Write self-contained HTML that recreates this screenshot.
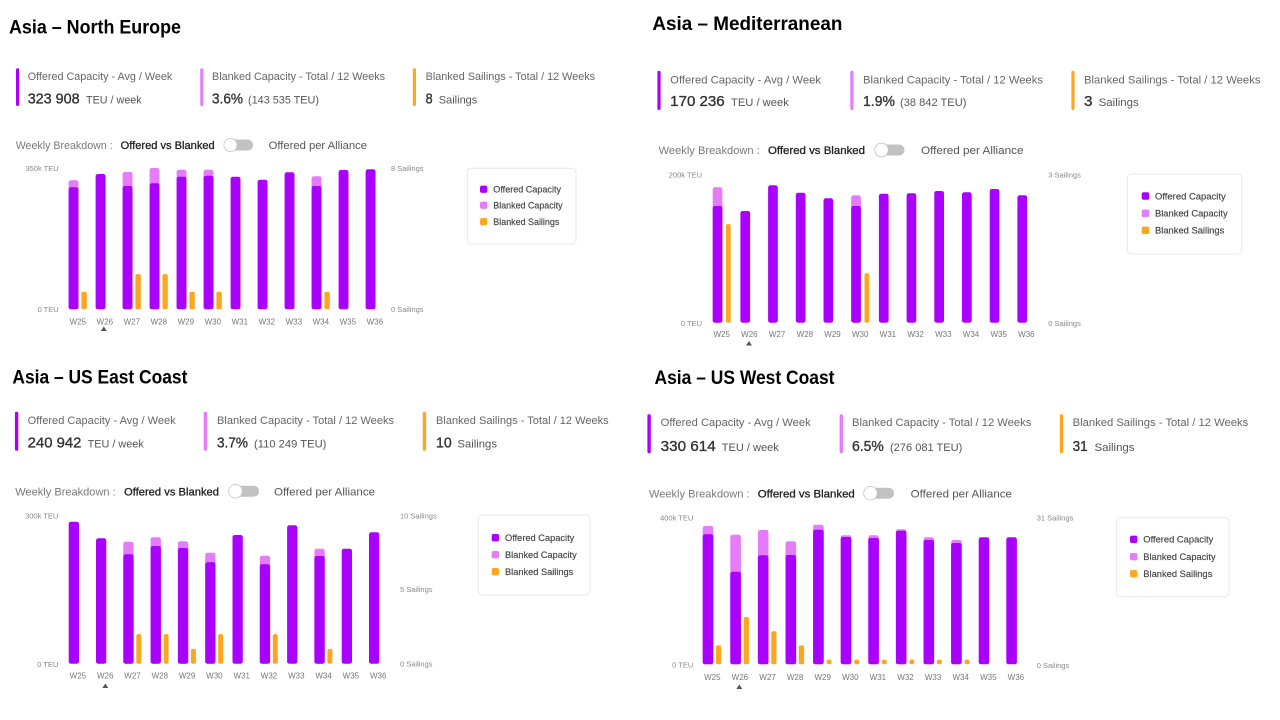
<!DOCTYPE html>
<html><head><meta charset="utf-8"><style>
html,body{margin:0;padding:0;background:#fff;}
svg{display:block;}
text{font-family:"Liberation Sans",Arial,sans-serif;}
.t{font-weight:bold;font-size:19px;fill:#000;}
.lb{font-size:11px;fill:#666;}
.v{font-size:14.5px;fill:#333;stroke:#333;stroke-width:0.35;}
.u{font-size:11px;fill:#555;}
.wb{font-size:11px;fill:#7a7a7a;}
.ob{font-size:11px;fill:#222;stroke:#222;stroke-width:0.3;}
.pa{font-size:11px;fill:#555;}
.ax{font-size:7.5px;fill:#888;}
.ax2{font-size:7.5px;fill:#888;text-anchor:end;}
.wk{font-size:8px;fill:#777;text-anchor:middle;}
.lg{font-size:9px;fill:#444;stroke:#444;stroke-width:0.15;}
.p{fill:#aa00ff;}
.k{fill:#e57cf9;}
.o{fill:#ffa620;}
.lbox{fill:#fff;stroke:#e8e8e8;stroke-width:1;}
.trk{fill:#c2c2c2;}
.knob{fill:#fff;stroke:#c4c4c4;stroke-width:0.8;}
.tri{fill:#555;}
</style></head><body>
<svg width="1280" height="720" viewBox="0 0 1280 720" xmlns="http://www.w3.org/2000/svg">
<rect width="1280" height="720" fill="#fff"/>

<!-- ================= TOP LEFT: Asia – North Europe ================= -->
<text class="t" x="9" y="33.5" textLength="172" lengthAdjust="spacingAndGlyphs">Asia – North Europe</text>
<rect class="p" x="16" y="68.3" width="3.2" height="37.7" rx="1.5"/>
<rect class="k" x="200.2" y="68.3" width="3.2" height="37.7" rx="1.5"/>
<rect class="o" x="412.8" y="68.3" width="3.2" height="37.7" rx="1.5"/>
<text class="lb" x="27.7" y="80" textLength="144.6" lengthAdjust="spacingAndGlyphs">Offered Capacity - Avg / Week</text>
<text class="lb" x="212" y="80" textLength="173" lengthAdjust="spacingAndGlyphs">Blanked Capacity - Total / 12 Weeks</text>
<text class="lb" x="425.6" y="80" textLength="169.5" lengthAdjust="spacingAndGlyphs">Blanked Sailings - Total / 12 Weeks</text>
<text class="v" x="27.7" y="103.3" textLength="52" lengthAdjust="spacingAndGlyphs">323 908</text>
<text class="u" x="86" y="103.3" textLength="55.7" lengthAdjust="spacingAndGlyphs">TEU / week</text>
<text class="v" x="212" y="103.3" textLength="31" lengthAdjust="spacingAndGlyphs">3.6%</text>
<text class="u" x="248" y="103.3" textLength="71" lengthAdjust="spacingAndGlyphs">(143 535 TEU)</text>
<text class="v" x="425.6" y="103.3" textLength="7" lengthAdjust="spacingAndGlyphs">8</text>
<text class="u" x="438.8" y="103.3" textLength="38.5" lengthAdjust="spacingAndGlyphs">Sailings</text>
<text class="wb" x="15.7" y="149" textLength="97" lengthAdjust="spacingAndGlyphs">Weekly Breakdown :</text>
<text class="ob" x="120.7" y="149" textLength="94" lengthAdjust="spacingAndGlyphs">Offered vs Blanked</text>
<rect class="trk" x="224" y="139.5" width="29" height="11" rx="5.5"/>
<circle class="knob" cx="230.5" cy="145" r="6.6"/>
<text class="pa" x="268.6" y="149" textLength="98.4" lengthAdjust="spacingAndGlyphs">Offered per Alliance</text>

<text class="ax2" x="58.7" y="171">350k TEU</text>
<text class="ax2" x="58.7" y="312">0 TEU</text>
<text class="ax" x="391" y="171">8 Sailings</text>
<text class="ax" x="391" y="312">0 Sailings</text>

<g>
<rect class="k" x="68.6" y="180.3" width="9.9" height="129" rx="2.2"/>
<rect class="p" x="68.6" y="187.3" width="9.9" height="122" rx="2.2"/>
<rect class="p" x="95.6" y="174" width="9.9" height="135.3" rx="2.2"/>
<rect class="k" x="122.6" y="172" width="9.9" height="137.3" rx="2.2"/>
<rect class="p" x="122.6" y="186" width="9.9" height="123.3" rx="2.2"/>
<rect class="k" x="149.6" y="168" width="9.9" height="141.3" rx="2.2"/>
<rect class="p" x="149.6" y="183.3" width="9.9" height="126" rx="2.2"/>
<rect class="k" x="176.6" y="169.7" width="9.9" height="139.6" rx="2.2"/>
<rect class="p" x="176.6" y="176.7" width="9.9" height="132.6" rx="2.2"/>
<rect class="k" x="203.6" y="169.7" width="9.9" height="139.6" rx="2.2"/>
<rect class="p" x="203.6" y="175.7" width="9.9" height="133.6" rx="2.2"/>
<rect class="p" x="230.6" y="176.7" width="9.9" height="132.6" rx="2.2"/>
<rect class="p" x="257.6" y="179.7" width="9.9" height="129.6" rx="2.2"/>
<rect class="p" x="284.6" y="172.3" width="9.9" height="137" rx="2.2"/>
<rect class="k" x="311.6" y="176.3" width="9.9" height="133" rx="2.2"/>
<rect class="p" x="311.6" y="186" width="9.9" height="123.3" rx="2.2"/>
<rect class="p" x="338.6" y="170" width="9.9" height="139.3" rx="2.2"/>
<rect class="p" x="365.6" y="169.3" width="9.9" height="140" rx="2.2"/>
<rect class="o" x="81.4" y="291.7" width="5.4" height="17.6" rx="1.8"/>
<rect class="o" x="135.4" y="274.1" width="5.4" height="35.2" rx="1.8"/>
<rect class="o" x="162.4" y="274.1" width="5.4" height="35.2" rx="1.8"/>
<rect class="o" x="189.4" y="291.7" width="5.4" height="17.6" rx="1.8"/>
<rect class="o" x="216.4" y="291.7" width="5.4" height="17.6" rx="1.8"/>
<rect class="o" x="324.4" y="291.7" width="5.4" height="17.6" rx="1.8"/>
</g>
<text class="wk" x="77.8" y="324.5">W25</text>
<text class="wk" x="104.8" y="324.5">W26</text>
<text class="wk" x="131.8" y="324.5">W27</text>
<text class="wk" x="158.8" y="324.5">W28</text>
<text class="wk" x="185.8" y="324.5">W29</text>
<text class="wk" x="212.8" y="324.5">W30</text>
<text class="wk" x="239.8" y="324.5">W31</text>
<text class="wk" x="266.8" y="324.5">W32</text>
<text class="wk" x="293.8" y="324.5">W33</text>
<text class="wk" x="320.8" y="324.5">W34</text>
<text class="wk" x="347.8" y="324.5">W35</text>
<text class="wk" x="374.8" y="324.5">W36</text>
<polygon class="tri" points="100.8,331 103.8,326.5 106.8,331"/>

<rect class="lbox" x="467.3" y="168.3" width="108.7" height="75.7" rx="4"/>
<rect class="p" x="480" y="185.6" width="7.3" height="7.3" rx="2"/>
<rect class="k" x="480" y="201.6" width="7.3" height="7.3" rx="2"/>
<rect class="o" x="480" y="218" width="7.3" height="7.3" rx="2"/>
<text class="lg" x="493.3" y="192.5" textLength="67.7" lengthAdjust="spacingAndGlyphs">Offered Capacity</text>
<text class="lg" x="493.3" y="208.5" textLength="69.3" lengthAdjust="spacingAndGlyphs">Blanked Capacity</text>
<text class="lg" x="493.3" y="224.9" textLength="66" lengthAdjust="spacingAndGlyphs">Blanked Sailings</text>

<!-- ================= TOP RIGHT: Asia – Mediterranean ================= -->
<text class="t" x="652.4" y="30" textLength="190" lengthAdjust="spacingAndGlyphs">Asia – Mediterranean</text>
<rect class="p" x="657.4" y="70.7" width="3.2" height="39.3" rx="1.5"/>
<rect class="k" x="850.3" y="70.7" width="3.2" height="39.3" rx="1.5"/>
<rect class="o" x="1071.4" y="70.7" width="3.2" height="39.3" rx="1.5"/>
<text class="lb" x="670.2" y="83.3" textLength="150.8" lengthAdjust="spacingAndGlyphs">Offered Capacity - Avg / Week</text>
<text class="lb" x="863" y="83.3" textLength="180" lengthAdjust="spacingAndGlyphs">Blanked Capacity - Total / 12 Weeks</text>
<text class="lb" x="1084" y="83.3" textLength="176.5" lengthAdjust="spacingAndGlyphs">Blanked Sailings - Total / 12 Weeks</text>
<text class="v" x="670.2" y="106.2" textLength="54.5" lengthAdjust="spacingAndGlyphs">170 236</text>
<text class="u" x="731" y="106.2" textLength="57.8" lengthAdjust="spacingAndGlyphs">TEU / week</text>
<text class="v" x="863" y="106.2" textLength="32" lengthAdjust="spacingAndGlyphs">1.9%</text>
<text class="u" x="900" y="106.2" textLength="66.4" lengthAdjust="spacingAndGlyphs">(38 842 TEU)</text>
<text class="v" x="1084" y="106.2" textLength="8.5" lengthAdjust="spacingAndGlyphs">3</text>
<text class="u" x="1098.7" y="106.2" textLength="40" lengthAdjust="spacingAndGlyphs">Sailings</text>
<text class="wb" x="658.6" y="154" textLength="101.2" lengthAdjust="spacingAndGlyphs">Weekly Breakdown :</text>
<text class="ob" x="768" y="154" textLength="97" lengthAdjust="spacingAndGlyphs">Offered vs Blanked</text>
<rect class="trk" x="875" y="144.5" width="29.5" height="11" rx="5.5"/>
<circle class="knob" cx="881.5" cy="150" r="6.8"/>
<text class="pa" x="921" y="154" textLength="102.5" lengthAdjust="spacingAndGlyphs">Offered per Alliance</text>

<text class="ax2" x="702" y="177.7">200k TEU</text>
<text class="ax2" x="702" y="326">0 TEU</text>
<text class="ax" x="1048.3" y="177.7">3 Sailings</text>
<text class="ax" x="1048.3" y="326">0 Sailings</text>

<g>
<rect class="k" x="712.7" y="187.3" width="9.7" height="135.4" rx="2.2"/>
<rect class="p" x="712.7" y="206" width="9.7" height="116.7" rx="2.2"/>
<rect class="p" x="740.4" y="211" width="9.7" height="111.7" rx="2.2"/>
<rect class="p" x="768.1" y="185.3" width="9.7" height="137.4" rx="2.2"/>
<rect class="p" x="795.8" y="192.7" width="9.7" height="130" rx="2.2"/>
<rect class="p" x="823.5" y="198.3" width="9.7" height="124.4" rx="2.2"/>
<rect class="k" x="851.2" y="195.3" width="9.7" height="127.4" rx="2.2"/>
<rect class="p" x="851.2" y="206" width="9.7" height="116.7" rx="2.2"/>
<rect class="p" x="878.9" y="193.7" width="9.7" height="129" rx="2.2"/>
<rect class="p" x="906.6" y="193.3" width="9.7" height="129.4" rx="2.2"/>
<rect class="p" x="934.3" y="191" width="9.7" height="131.7" rx="2.2"/>
<rect class="p" x="962" y="192.3" width="9.7" height="130.4" rx="2.2"/>
<rect class="p" x="989.7" y="189" width="9.7" height="133.7" rx="2.2"/>
<rect class="p" x="1017.4" y="195.3" width="9.7" height="127.4" rx="2.2"/>
<rect class="o" x="726" y="224" width="4.7" height="98.7" rx="1.8"/>
<rect class="o" x="864.5" y="273.3" width="4.7" height="49.4" rx="1.8"/>
</g>
<text class="wk" x="721.7" y="337">W25</text>
<text class="wk" x="749.4" y="337">W26</text>
<text class="wk" x="777.1" y="337">W27</text>
<text class="wk" x="804.8" y="337">W28</text>
<text class="wk" x="832.5" y="337">W29</text>
<text class="wk" x="860.2" y="337">W30</text>
<text class="wk" x="887.9" y="337">W31</text>
<text class="wk" x="915.6" y="337">W32</text>
<text class="wk" x="943.3" y="337">W33</text>
<text class="wk" x="971" y="337">W34</text>
<text class="wk" x="998.7" y="337">W35</text>
<text class="wk" x="1026.4" y="337">W36</text>
<polygon class="tri" points="746,345.5 749,341 752,345.5"/>

<rect class="lbox" x="1127.3" y="174" width="114.4" height="80" rx="4"/>
<rect class="p" x="1141.7" y="192.2" width="7.6" height="7.6" rx="2"/>
<rect class="k" x="1141.7" y="209.5" width="7.6" height="7.6" rx="2"/>
<rect class="o" x="1141.7" y="226.5" width="7.6" height="7.6" rx="2"/>
<text class="lg" x="1155" y="199.3" textLength="70.7" lengthAdjust="spacingAndGlyphs">Offered Capacity</text>
<text class="lg" x="1155" y="216.6" textLength="72.7" lengthAdjust="spacingAndGlyphs">Blanked Capacity</text>
<text class="lg" x="1155" y="233.6" textLength="69.3" lengthAdjust="spacingAndGlyphs">Blanked Sailings</text>

<!-- ================= BOTTOM LEFT: Asia – US East Coast ================= -->
<text class="t" x="12.4" y="383.5" textLength="175" lengthAdjust="spacingAndGlyphs">Asia – US East Coast</text>
<rect class="p" x="14.9" y="411.7" width="3.4" height="39" rx="1.5"/>
<rect class="k" x="203.7" y="411.7" width="3.4" height="39" rx="1.5"/>
<rect class="o" x="422.7" y="411.7" width="3.4" height="39" rx="1.5"/>
<text class="lb" x="27.7" y="424" textLength="148" lengthAdjust="spacingAndGlyphs">Offered Capacity - Avg / Week</text>
<text class="lb" x="217" y="424" textLength="177" lengthAdjust="spacingAndGlyphs">Blanked Capacity - Total / 12 Weeks</text>
<text class="lb" x="436" y="424" textLength="172.7" lengthAdjust="spacingAndGlyphs">Blanked Sailings - Total / 12 Weeks</text>
<text class="v" x="27.7" y="447.7" textLength="53.7" lengthAdjust="spacingAndGlyphs">240 942</text>
<text class="u" x="87.6" y="447.7" textLength="56.2" lengthAdjust="spacingAndGlyphs">TEU / week</text>
<text class="v" x="217" y="447.7" textLength="31" lengthAdjust="spacingAndGlyphs">3.7%</text>
<text class="u" x="254" y="447.7" textLength="72.4" lengthAdjust="spacingAndGlyphs">(110 249 TEU)</text>
<text class="v" x="436" y="447.7" textLength="15.7" lengthAdjust="spacingAndGlyphs">10</text>
<text class="u" x="457.4" y="447.7" textLength="39.6" lengthAdjust="spacingAndGlyphs">Sailings</text>
<text class="wb" x="15.3" y="495.3" textLength="100.4" lengthAdjust="spacingAndGlyphs">Weekly Breakdown :</text>
<text class="ob" x="124" y="495.3" textLength="95" lengthAdjust="spacingAndGlyphs">Offered vs Blanked</text>
<rect class="trk" x="229" y="485.7" width="30" height="11" rx="5.5"/>
<circle class="knob" cx="235.5" cy="491.2" r="6.8"/>
<text class="pa" x="274" y="495.3" textLength="101" lengthAdjust="spacingAndGlyphs">Offered per Alliance</text>

<text class="ax2" x="58.3" y="518.4">300k TEU</text>
<text class="ax2" x="58.3" y="667">0 TEU</text>
<text class="ax" x="400" y="518.7">10 Sailings</text>
<text class="ax" x="400" y="592">5 Sailings</text>
<text class="ax" x="400" y="666.7">0 Sailings</text>

<g>
<rect class="p" x="68.7" y="521.7" width="10.3" height="142" rx="2.2"/>
<rect class="p" x="96" y="538.3" width="10.3" height="125.4" rx="2.2"/>
<rect class="k" x="123.3" y="541.7" width="10.3" height="122" rx="2.2"/>
<rect class="p" x="123.3" y="554.3" width="10.3" height="109.4" rx="2.2"/>
<rect class="k" x="150.6" y="537.3" width="10.3" height="126.4" rx="2.2"/>
<rect class="p" x="150.6" y="546" width="10.3" height="117.7" rx="2.2"/>
<rect class="k" x="177.9" y="541.3" width="10.3" height="122.4" rx="2.2"/>
<rect class="p" x="177.9" y="548" width="10.3" height="115.7" rx="2.2"/>
<rect class="k" x="205.2" y="552.7" width="10.3" height="111" rx="2.2"/>
<rect class="p" x="205.2" y="562.3" width="10.3" height="101.4" rx="2.2"/>
<rect class="p" x="232.5" y="535" width="10.3" height="128.7" rx="2.2"/>
<rect class="k" x="259.8" y="555.7" width="10.3" height="108" rx="2.2"/>
<rect class="p" x="259.8" y="564.3" width="10.3" height="99.4" rx="2.2"/>
<rect class="p" x="287.1" y="525.3" width="10.3" height="138.4" rx="2.2"/>
<rect class="k" x="314.4" y="548.7" width="10.3" height="115" rx="2.2"/>
<rect class="p" x="314.4" y="556" width="10.3" height="107.7" rx="2.2"/>
<rect class="p" x="341.7" y="548.7" width="10.3" height="115" rx="2.2"/>
<rect class="p" x="369" y="532.3" width="10.3" height="131.4" rx="2.2"/>
<rect class="o" x="136.3" y="634.1" width="5" height="29.6" rx="1.8"/>
<rect class="o" x="163.6" y="634.1" width="5" height="29.6" rx="1.8"/>
<rect class="o" x="190.9" y="648.9" width="5" height="14.8" rx="1.8"/>
<rect class="o" x="218.2" y="634.1" width="5" height="29.6" rx="1.8"/>
<rect class="o" x="272.8" y="634.1" width="5" height="29.6" rx="1.8"/>
<rect class="o" x="327.4" y="648.9" width="5" height="14.8" rx="1.8"/>
</g>
<text class="wk" x="77.9" y="678.7">W25</text>
<text class="wk" x="105.2" y="678.7">W26</text>
<text class="wk" x="132.5" y="678.7">W27</text>
<text class="wk" x="159.8" y="678.7">W28</text>
<text class="wk" x="187.1" y="678.7">W29</text>
<text class="wk" x="214.4" y="678.7">W30</text>
<text class="wk" x="241.7" y="678.7">W31</text>
<text class="wk" x="269" y="678.7">W32</text>
<text class="wk" x="296.3" y="678.7">W33</text>
<text class="wk" x="323.6" y="678.7">W34</text>
<text class="wk" x="350.9" y="678.7">W35</text>
<text class="wk" x="378.2" y="678.7">W36</text>
<polygon class="tri" points="102.3,688 105.3,683.5 108.3,688"/>

<rect class="lbox" x="478.3" y="515" width="111.7" height="80" rx="4"/>
<rect class="p" x="491.7" y="534" width="7.4" height="7.4" rx="2"/>
<rect class="k" x="491.7" y="551" width="7.4" height="7.4" rx="2"/>
<rect class="o" x="491.7" y="568" width="7.4" height="7.4" rx="2"/>
<text class="lg" x="505" y="541" textLength="69.3" lengthAdjust="spacingAndGlyphs">Offered Capacity</text>
<text class="lg" x="505" y="558" textLength="71.7" lengthAdjust="spacingAndGlyphs">Blanked Capacity</text>
<text class="lg" x="505" y="575" textLength="68.3" lengthAdjust="spacingAndGlyphs">Blanked Sailings</text>

<!-- ================= BOTTOM RIGHT: Asia – US West Coast ================= -->
<text class="t" x="654.5" y="384" textLength="180" lengthAdjust="spacingAndGlyphs">Asia – US West Coast</text>
<rect class="p" x="647.4" y="414.3" width="3.4" height="39" rx="1.5"/>
<rect class="k" x="839.6" y="414.3" width="3.4" height="39" rx="1.5"/>
<rect class="o" x="1059.8" y="414.3" width="3.4" height="39" rx="1.5"/>
<text class="lb" x="660.7" y="426" textLength="150" lengthAdjust="spacingAndGlyphs">Offered Capacity - Avg / Week</text>
<text class="lb" x="852" y="426" textLength="179.3" lengthAdjust="spacingAndGlyphs">Blanked Capacity - Total / 12 Weeks</text>
<text class="lb" x="1072.6" y="426" textLength="175.7" lengthAdjust="spacingAndGlyphs">Blanked Sailings - Total / 12 Weeks</text>
<text class="v" x="660.7" y="451" textLength="55" lengthAdjust="spacingAndGlyphs">330 614</text>
<text class="u" x="721.8" y="451" textLength="57" lengthAdjust="spacingAndGlyphs">TEU / week</text>
<text class="v" x="852" y="451" textLength="31.8" lengthAdjust="spacingAndGlyphs">6.5%</text>
<text class="u" x="890" y="451" textLength="72.3" lengthAdjust="spacingAndGlyphs">(276 081 TEU)</text>
<text class="v" x="1072.6" y="451" textLength="15" lengthAdjust="spacingAndGlyphs">31</text>
<text class="u" x="1094.5" y="451" textLength="40" lengthAdjust="spacingAndGlyphs">Sailings</text>
<text class="wb" x="649" y="497.3" textLength="100.5" lengthAdjust="spacingAndGlyphs">Weekly Breakdown :</text>
<text class="ob" x="757.8" y="497.3" textLength="97" lengthAdjust="spacingAndGlyphs">Offered vs Blanked</text>
<rect class="trk" x="864" y="487.7" width="30" height="11" rx="5.5"/>
<circle class="knob" cx="870.5" cy="493.2" r="6.8"/>
<text class="pa" x="910.7" y="497.3" textLength="101.3" lengthAdjust="spacingAndGlyphs">Offered per Alliance</text>

<text class="ax2" x="693.3" y="520.4">400k TEU</text>
<text class="ax2" x="693.3" y="667.7">0 TEU</text>
<text class="ax" x="1036.7" y="520.4">31 Sailings</text>
<text class="ax" x="1036.7" y="668">0 Sailings</text>

<g>
<rect class="k" x="702.7" y="526" width="10.6" height="138.3" rx="2.2"/>
<rect class="p" x="702.7" y="534.3" width="10.6" height="130" rx="2.2"/>
<rect class="k" x="730.3" y="534.7" width="10.6" height="129.6" rx="2.2"/>
<rect class="p" x="730.3" y="571.7" width="10.6" height="92.6" rx="2.2"/>
<rect class="k" x="757.9" y="530" width="10.6" height="134.3" rx="2.2"/>
<rect class="p" x="757.9" y="555.3" width="10.6" height="109" rx="2.2"/>
<rect class="k" x="785.5" y="541.3" width="10.6" height="123" rx="2.2"/>
<rect class="p" x="785.5" y="555" width="10.6" height="109.3" rx="2.2"/>
<rect class="k" x="813.1" y="524.7" width="10.6" height="139.6" rx="2.2"/>
<rect class="p" x="813.1" y="529.7" width="10.6" height="134.6" rx="2.2"/>
<rect class="k" x="840.7" y="535.3" width="10.6" height="129" rx="2.2"/>
<rect class="p" x="840.7" y="537" width="10.6" height="127.3" rx="2.2"/>
<rect class="k" x="868.3" y="535.3" width="10.6" height="129" rx="2.2"/>
<rect class="p" x="868.3" y="538" width="10.6" height="126.3" rx="2.2"/>
<rect class="k" x="895.9" y="529.3" width="10.6" height="135" rx="2.2"/>
<rect class="p" x="895.9" y="530.7" width="10.6" height="133.6" rx="2.2"/>
<rect class="k" x="923.5" y="537.3" width="10.6" height="127" rx="2.2"/>
<rect class="p" x="923.5" y="540" width="10.6" height="124.3" rx="2.2"/>
<rect class="k" x="951.1" y="540" width="10.6" height="124.3" rx="2.2"/>
<rect class="p" x="951.1" y="543" width="10.6" height="121.3" rx="2.2"/>
<rect class="p" x="978.7" y="537.3" width="10.6" height="127" rx="2.2"/>
<rect class="p" x="1006.3" y="537.3" width="10.6" height="127" rx="2.2"/>
<rect class="o" x="716" y="645.4" width="5.3" height="18.9" rx="1.8"/>
<rect class="o" x="743.6" y="617" width="5.3" height="47.3" rx="1.8"/>
<rect class="o" x="771.2" y="631.2" width="5.3" height="33.1" rx="1.8"/>
<rect class="o" x="798.8" y="645.4" width="5.3" height="18.9" rx="1.8"/>
<rect class="o" x="826.4" y="659.5" width="5.3" height="4.8" rx="2.4"/>
<rect class="o" x="854" y="659.5" width="5.3" height="4.8" rx="2.4"/>
<rect class="o" x="881.6" y="659.5" width="5.3" height="4.8" rx="2.4"/>
<rect class="o" x="909.2" y="659.5" width="5.3" height="4.8" rx="2.4"/>
<rect class="o" x="936.8" y="659.5" width="5.3" height="4.8" rx="2.4"/>
<rect class="o" x="964.4" y="659.5" width="5.3" height="4.8" rx="2.4"/>
</g>
<text class="wk" x="712.3" y="680">W25</text>
<text class="wk" x="739.9" y="680">W26</text>
<text class="wk" x="767.5" y="680">W27</text>
<text class="wk" x="795.1" y="680">W28</text>
<text class="wk" x="822.7" y="680">W29</text>
<text class="wk" x="850.3" y="680">W30</text>
<text class="wk" x="877.9" y="680">W31</text>
<text class="wk" x="905.5" y="680">W32</text>
<text class="wk" x="933.1" y="680">W33</text>
<text class="wk" x="960.7" y="680">W34</text>
<text class="wk" x="988.3" y="680">W35</text>
<text class="wk" x="1015.9" y="680">W36</text>
<polygon class="tri" points="736.3,689 739.3,684.5 742.3,689"/>

<rect class="lbox" x="1116.7" y="517.7" width="112.3" height="79" rx="4"/>
<rect class="p" x="1130" y="535.6" width="7.4" height="7.4" rx="2"/>
<rect class="k" x="1130" y="553" width="7.4" height="7.4" rx="2"/>
<rect class="o" x="1130" y="570" width="7.4" height="7.4" rx="2"/>
<text class="lg" x="1143.3" y="542.6" textLength="70" lengthAdjust="spacingAndGlyphs">Offered Capacity</text>
<text class="lg" x="1143.3" y="560" textLength="72.3" lengthAdjust="spacingAndGlyphs">Blanked Capacity</text>
<text class="lg" x="1143.3" y="577" textLength="69" lengthAdjust="spacingAndGlyphs">Blanked Sailings</text>
</svg>
</body></html>
